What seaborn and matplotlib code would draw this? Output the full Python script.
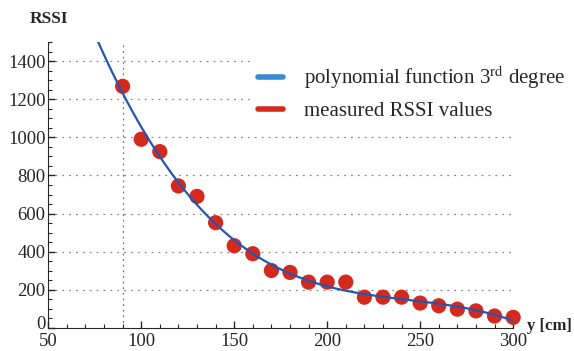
#RSSI vs distance with cubic fit

import numpy as np
import pandas as pd
import matplotlib
matplotlib.use("Agg")
import matplotlib.pyplot as plt
from matplotlib.lines import Line2D
from matplotlib.ticker import MultipleLocator
import seaborn as sns

#data
distance_cm = [90, 100, 110, 120, 130, 140, 150, 160, 170, 180, 190,
               200, 210, 220, 230, 240, 250, 260, 270, 280, 290, 300]
rssi = [1268, 990, 925, 745, 690, 552, 431, 389, 301, 291, 240,
        240, 240, 161, 161, 161, 130, 116, 98, 89, 62, 55]
y_ticks = [0, 200, 400, 600, 800, 1000, 1200, 1400]

df = pd.DataFrame({"y": distance_cm, "RSSI": rssi})

#3rd degree polynomial fit
coef = np.polyfit(df["y"], df["RSSI"], 3)
xs = np.linspace(70, 300, 300)
fit = pd.DataFrame({"y": xs, "RSSI": np.polyval(coef, xs)})

sns.set_style("ticks")
plt.rcParams["font.family"] = ["Liberation Serif", "DejaVu Serif"]
plt.rcParams["mathtext.fontset"] = "stix"

fig, ax = plt.subplots(figsize=(5.74, 3.51), dpi=100)
fig.subplots_adjust(left=0.084, right=0.894, bottom=0.066, top=0.88)

#dotted grid
for v in y_ticks[1:]:
    ax.axhline(v, color="#8a8a8a", lw=0.9, ls=(0, (1.5, 4)), zorder=0)
ax.axvline(90, color="#777777", lw=0.9, ls=(0, (1.5, 3)), zorder=0)

sns.scatterplot(data=df, x="y", y="RSSI", ax=ax, color="#d42a1e", s=120,
                edgecolor="none", clip_on=False, zorder=3, legend=False)
sns.lineplot(data=fit, x="y", y="RSSI", ax=ax, color="#2456b0", lw=1.6,
             zorder=4, legend=False)

ax.set_xlim(50, 300)
ax.set_ylim(0, 1500)
ax.xaxis.set_major_locator(MultipleLocator(50))
ax.xaxis.set_minor_locator(MultipleLocator(10))
ax.yaxis.set_minor_locator(MultipleLocator(50))
ax.set_yticks(y_ticks)
#"0" is drawn by hand a bit higher so it does not run into "50"
ax.set_yticklabels([""] + [str(v) for v in y_ticks[1:]])
ax.tick_params(which="major", direction="in", length=5, width=1, labelsize=13.5)
ax.tick_params(axis="y", which="major", pad=2)
ax.tick_params(axis="x", which="major", pad=4)
ax.tick_params(which="minor", direction="in", length=3, width=0.8)
ax.spines["right"].set_visible(False)
ax.spines["top"].set_visible(False)
ax.set_xlabel("")
ax.set_ylabel("")
ax.annotate("0", xy=(0, 0), xycoords="axes fraction", xytext=(-2, 4),
            textcoords="offset points", ha="right", va="center_baseline",
            fontsize=13.5)

fig.text(0.052, 0.945, "RSSI", fontsize=12.5, fontweight="bold", va="center")
fig.text(0.918, 0.072, "y [cm]", fontsize=12, fontweight="bold", va="center")

handles = [Line2D([], [], color="#3a8ad2", lw=4),
           Line2D([], [], color="#d42a1e", lw=4)]
labels = ["polynomial function 3$^{\\mathrm{rd}}$ degree", "measured RSSI values"]
ax.legend(handles, labels, loc="upper left", bbox_to_anchor=(0.42, 0.975),
          frameon=True, facecolor="white", edgecolor="none", framealpha=1,
          fontsize=15, handlelength=1.2, handletextpad=1.0, labelspacing=0.5,
          borderpad=0.2)

plt.savefig("out.png", dpi=100)
